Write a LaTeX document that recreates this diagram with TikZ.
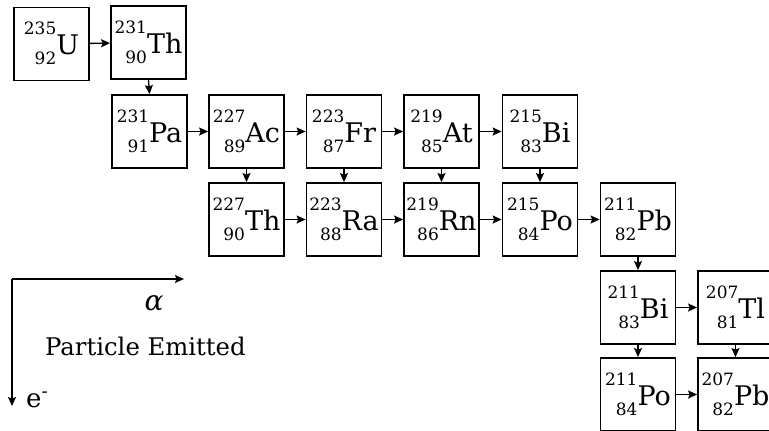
\documentclass[tikz,border=0pt]{standalone}
\usepackage{fontspec}
\setmainfont{DejaVu Serif}
\usetikzlibrary{arrows.meta}
\newcommand\nucl[3]{{\fontsize{17}{17}\selectfont\raisebox{20pt}{#1}\llap{\raisebox{-10pt}{#2}}}{\fontsize{27}{27}\selectfont #3}}
\tikzset{
  nb/.style={draw, line width=1.8pt, minimum width=75pt, minimum height=73pt, inner sep=0pt, text height=25pt, text depth=4pt},
  arr/.style={line width=1.3pt, -{Stealth[length=9pt,width=8pt,inset=1.5pt]}}
}
\begin{document}
\begin{tikzpicture}[x=1pt,y=-1pt]
\useasboundingbox (0,0) rectangle (769,431);
\clip (0,0) rectangle (769,431);
% row 1
\node[nb] (U) at (51.5,44) {\nucl{235}{92}{U}};
\node[nb] (Th1) at (148.5,42.5) {\nucl{231}{90}{Th}};
% row 2
\node[nb] (Pa) at (149.5,131.5) {\nucl{231}{91}{Pa}};
\node[nb] (Ac) at (246.5,131.5) {\nucl{227}{89}{Ac}};
\node[nb] (Fr) at (344,131.5) {\nucl{223}{87}{Fr}};
\node[nb] (At) at (441.5,131.5) {\nucl{219}{85}{At}};
\node[nb] (Bi1) at (540,131.5) {\nucl{215}{83}{Bi}};
% row 3
\node[nb] (Th2) at (246.5,219.5) {\nucl{227}{90}{Th}};
\node[nb] (Ra) at (344,219.5) {\nucl{223}{88}{Ra}};
\node[nb] (Rn) at (441.5,219.5) {\nucl{219}{86}{Rn}};
\node[nb] (Po1) at (540,219.5) {\nucl{215}{84}{Po}};
\node[nb] (Pb1) at (638,219.5) {\nucl{211}{82}{Pb}};
% row 4
\node[nb] (Bi2) at (638,307.5) {\nucl{211}{83}{Bi}};
\node[nb] (Tl) at (735.5,307.5) {\nucl{207}{81}{Tl}};
% row 5
\node[nb] (Po2) at (638,394.5) {\nucl{211}{84}{Po}};
\node[nb] (Pb2) at (735.5,394.5) {\nucl{207}{82}{Pb}};
% arrows
\draw[arr] (U) -- (Th1);
\draw[arr] (Th1.south) -- (Pa.north);
\draw[arr] (Pa) -- (Ac);
\draw[arr] (Ac) -- (Fr);
\draw[arr] (Fr) -- (At);
\draw[arr] (At) -- (Bi1);
\draw[arr] (Ac) -- (Th2);
\draw[arr] (Fr) -- (Ra);
\draw[arr] (At) -- (Rn);
\draw[arr] (Bi1) -- (Po1);
\draw[arr] (Th2) -- (Ra);
\draw[arr] (Ra) -- (Rn);
\draw[arr] (Rn) -- (Po1);
\draw[arr] (Po1) -- (Pb1);
\draw[arr] (Pb1) -- (Bi2);
\draw[arr] (Bi2) -- (Tl);
\draw[arr] (Bi2) -- (Po2);
\draw[arr] (Tl) -- (Pb2);
\draw[arr] (Po2) -- (Pb2);
% legend
\coordinate (o) at (12,279);
\coordinate (ax) at (184,279);
\coordinate (ey) at (12,406);
\draw[arr] (o) -- (ax);
\draw[arr] (o) -- (ey);
\node[anchor=base, inner sep=0pt, font=\fontsize{28}{28}\selectfont\itshape] (alpha) at (154,310) {α};
\node[anchor=base west, inner sep=0pt, font=\fontsize{24.3}{24}\selectfont] (pe) at (45,355) {Particle Emitted};
\node[anchor=base west, inner sep=0pt, font=\fontsize{26}{26}\selectfont] (el) at (26,407) {e\textsuperscript{-}};
\end{tikzpicture}
\end{document}
